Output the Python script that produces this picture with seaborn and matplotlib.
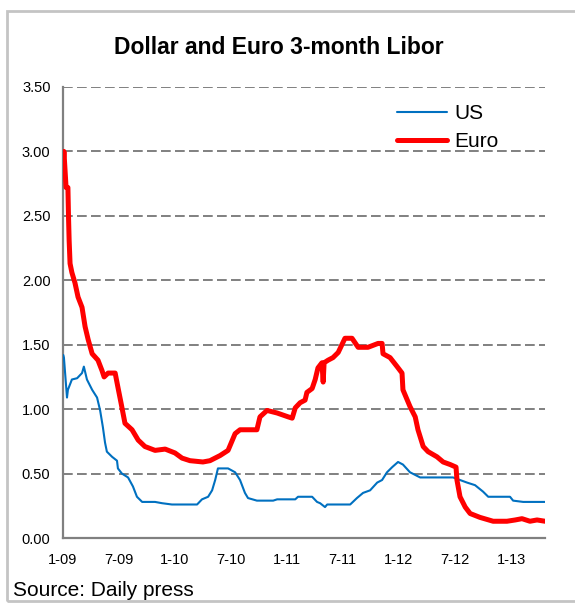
import matplotlib
matplotlib.use("Agg")
import matplotlib.pyplot as plt
import matplotlib.dates as mdates
from matplotlib.patches import Rectangle
import pandas as pd
import seaborn as sns

# --- Data ---
us_dates = [
    "2009-01-02", "2009-01-04", "2009-01-14", "2009-01-17", "2009-01-30", "2009-02-16",
    "2009-03-04", "2009-03-10", "2009-03-20", "2009-04-06", "2009-04-22", "2009-05-02",
    "2009-05-11", "2009-05-18", "2009-05-24", "2009-06-10", "2009-06-26", "2009-06-29",
    "2009-07-12", "2009-08-01", "2009-08-17", "2009-08-30", "2009-09-16", "2009-10-28",
    "2009-11-20", "2009-12-22", "2010-03-14", "2010-03-30", "2010-04-19", "2010-05-02",
    "2010-05-12", "2010-05-21", "2010-06-23", "2010-07-16", "2010-08-01", "2010-08-17",
    "2010-08-27", "2010-09-25", "2010-11-17", "2010-11-30", "2011-01-28", "2011-02-06",
    "2011-03-24", "2011-04-09", "2011-04-19", "2011-05-05", "2011-05-12", "2011-05-21",
    "2011-07-26", "2011-08-17", "2011-09-06", "2011-09-29", "2011-10-22", "2011-11-07",
    "2011-11-23", "2011-12-10", "2011-12-29", "2012-01-14", "2012-02-06", "2012-03-10",
    "2012-06-25", "2012-08-10", "2012-09-05", "2012-10-01", "2012-10-18", "2012-12-28",
    "2013-01-07", "2013-02-09", "2013-04-21",
]
us_values = [
    1.42, 1.40, 1.09, 1.15, 1.23, 1.24,
    1.28, 1.33, 1.23, 1.15, 1.09, 0.99,
    0.86, 0.74, 0.67, 0.63, 0.60, 0.54,
    0.50, 0.47, 0.40, 0.32, 0.28, 0.28,
    0.27, 0.26, 0.26, 0.30, 0.32, 0.37,
    0.45, 0.54, 0.54, 0.51, 0.45, 0.35,
    0.31, 0.29, 0.29, 0.30, 0.30, 0.32,
    0.32, 0.28, 0.27, 0.24, 0.26, 0.26,
    0.26, 0.31, 0.35, 0.37, 0.43, 0.45,
    0.51, 0.55, 0.59, 0.57, 0.51, 0.47,
    0.47, 0.43, 0.41, 0.36, 0.32, 0.32,
    0.29, 0.28, 0.28,
]

euro_dates = [
    "2009-01-02", "2009-01-04", "2009-01-11", "2009-01-17", "2009-01-19", "2009-01-21",
    "2009-01-24", "2009-01-30", "2009-02-09", "2009-02-19", "2009-03-04", "2009-03-14",
    "2009-03-24", "2009-04-06", "2009-04-25", "2009-05-08", "2009-05-15", "2009-05-28",
    "2009-06-20", "2009-06-29", "2009-07-09", "2009-07-22", "2009-08-14", "2009-09-03",
    "2009-09-25", "2009-10-28", "2009-11-30", "2010-01-01", "2010-01-24", "2010-02-19",
    "2010-04-02", "2010-04-25", "2010-05-28", "2010-06-23", "2010-07-16", "2010-08-01",
    "2010-09-25", "2010-10-05", "2010-10-28", "2010-11-30", "2011-01-05", "2011-01-18",
    "2011-01-28", "2011-02-13", "2011-03-01", "2011-03-07", "2011-03-24", "2011-04-03",
    "2011-04-12", "2011-04-25", "2011-04-29", "2011-05-02", "2011-05-15", "2011-05-31",
    "2011-06-17", "2011-07-09", "2011-08-01", "2011-08-21", "2011-09-22", "2011-10-25",
    "2011-11-07", "2011-11-10", "2011-12-03", "2011-12-26", "2012-01-11", "2012-01-14",
    "2012-02-06", "2012-02-23", "2012-03-03", "2012-03-20", "2012-04-05", "2012-05-04",
    "2012-05-24", "2012-06-16", "2012-07-05", "2012-07-08", "2012-07-18", "2012-08-04",
    "2012-08-20", "2012-09-21", "2012-11-03", "2012-12-18", "2013-01-14", "2013-02-05",
    "2013-03-03", "2013-03-26", "2013-04-21",
]
euro_values = [
    2.92, 3.00, 2.72, 2.72, 2.49, 2.31,
    2.13, 2.06, 1.98, 1.87, 1.79, 1.64,
    1.54, 1.43, 1.38, 1.30, 1.25, 1.28,
    1.28, 1.17, 1.05, 0.89, 0.84, 0.76,
    0.71, 0.68, 0.69, 0.66, 0.62, 0.60,
    0.59, 0.60, 0.64, 0.68, 0.81, 0.84,
    0.84, 0.94, 0.99, 0.97, 0.94, 0.93,
    1.01, 1.05, 1.07, 1.13, 1.16, 1.23,
    1.32, 1.36, 1.21, 1.36, 1.38, 1.40,
    1.44, 1.55, 1.55, 1.48, 1.48, 1.51,
    1.51, 1.43, 1.40, 1.33, 1.28, 1.15,
    1.02, 0.94, 0.84, 0.71, 0.67, 0.63,
    0.59, 0.57, 0.55, 0.45, 0.32, 0.24,
    0.19, 0.16, 0.13, 0.13, 0.14, 0.15,
    0.13, 0.14, 0.13,
]

y_ticks = [0.0, 0.5, 1.0, 1.5, 2.0, 2.5, 3.0, 3.5]

# --- Plotting ---
sns.set_style("white")
plt.rcParams["font.family"] = ["Liberation Sans", "DejaVu Sans"]
plt.rcParams["text.color"] = "black"

fig = plt.figure(figsize=(5.75, 6.03), dpi=100)
ax = fig.add_axes([63 / 575, 1 - 538 / 603, (545 - 63) / 575, (538 - 87) / 603])

sns.lineplot(x=pd.to_datetime(us_dates), y=us_values, ax=ax,
             color="#0070C0", linewidth=1.5, label="US", zorder=3)
sns.lineplot(x=pd.to_datetime(euro_dates), y=euro_values, ax=ax,
             color="#FF0000", linewidth=3.6, label="Euro", zorder=4)

# --- Formatting ---
ax.set_xlim(pd.Timestamp("2009-01-01"), pd.Timestamp("2013-04-21"))
ax.set_ylim(0, 3.5)
ax.set_yticks(y_ticks)
ax.set_yticklabels([f"{v:.2f}" for v in y_ticks])
ax.xaxis.set_major_locator(mdates.MonthLocator(bymonth=[1, 7]))
ax.xaxis.set_major_formatter(mdates.DateFormatter("%-m-%y"))
ax.xaxis.set_minor_locator(mdates.MonthLocator())
ax.set_xlabel("")
ax.set_ylabel("")

for side in ["top", "right"]:
    ax.spines[side].set_visible(False)
for side in ["left", "bottom"]:
    ax.spines[side].set_color("#808080")
    ax.spines[side].set_linewidth(1.6)

ax.yaxis.grid(True, color="#808080", linewidth=1.4, linestyle=(0, (5, 2.2)))
ax.xaxis.grid(False)
ax.set_axisbelow(True)

ax.tick_params(axis="y", which="major", direction="out", length=4, width=1.2,
               color="#808080", labelsize=10.5, pad=5, labelcolor="black")
ax.tick_params(axis="x", which="major", direction="inout", length=7, width=1.2,
               color="#808080", labelsize=10.5, pad=7, labelcolor="black")
ax.tick_params(axis="x", which="minor", direction="out", length=2, width=1.0,
               color="#808080")

ax.legend(loc="upper left", bbox_to_anchor=(397 / 575, 1 - 104 / 603),
          bbox_transform=fig.transFigure, frameon=False, fontsize=15,
          handlelength=2.4, handletextpad=0.35, labelspacing=0.45, borderpad=0,
          borderaxespad=0)

fig.text(279 / 575, 1 - 47 / 603, "Dollar and Euro 3-month Libor",
         ha="center", va="center", fontsize=16.5, fontweight="bold")
fig.text(13 / 575, 1 - 590 / 603, "Source: Daily press",
         ha="left", va="center", fontsize=15)

# outer frame of the chart object
fig.patches.append(Rectangle((7 / 575, 1 - 601 / 603), 1.0, (601 - 11) / 603,
                             transform=fig.transFigure, fill=False,
                             edgecolor="#C4C4C4", linewidth=2.0, clip_on=False))

fig.savefig("out.png", dpi=100)
